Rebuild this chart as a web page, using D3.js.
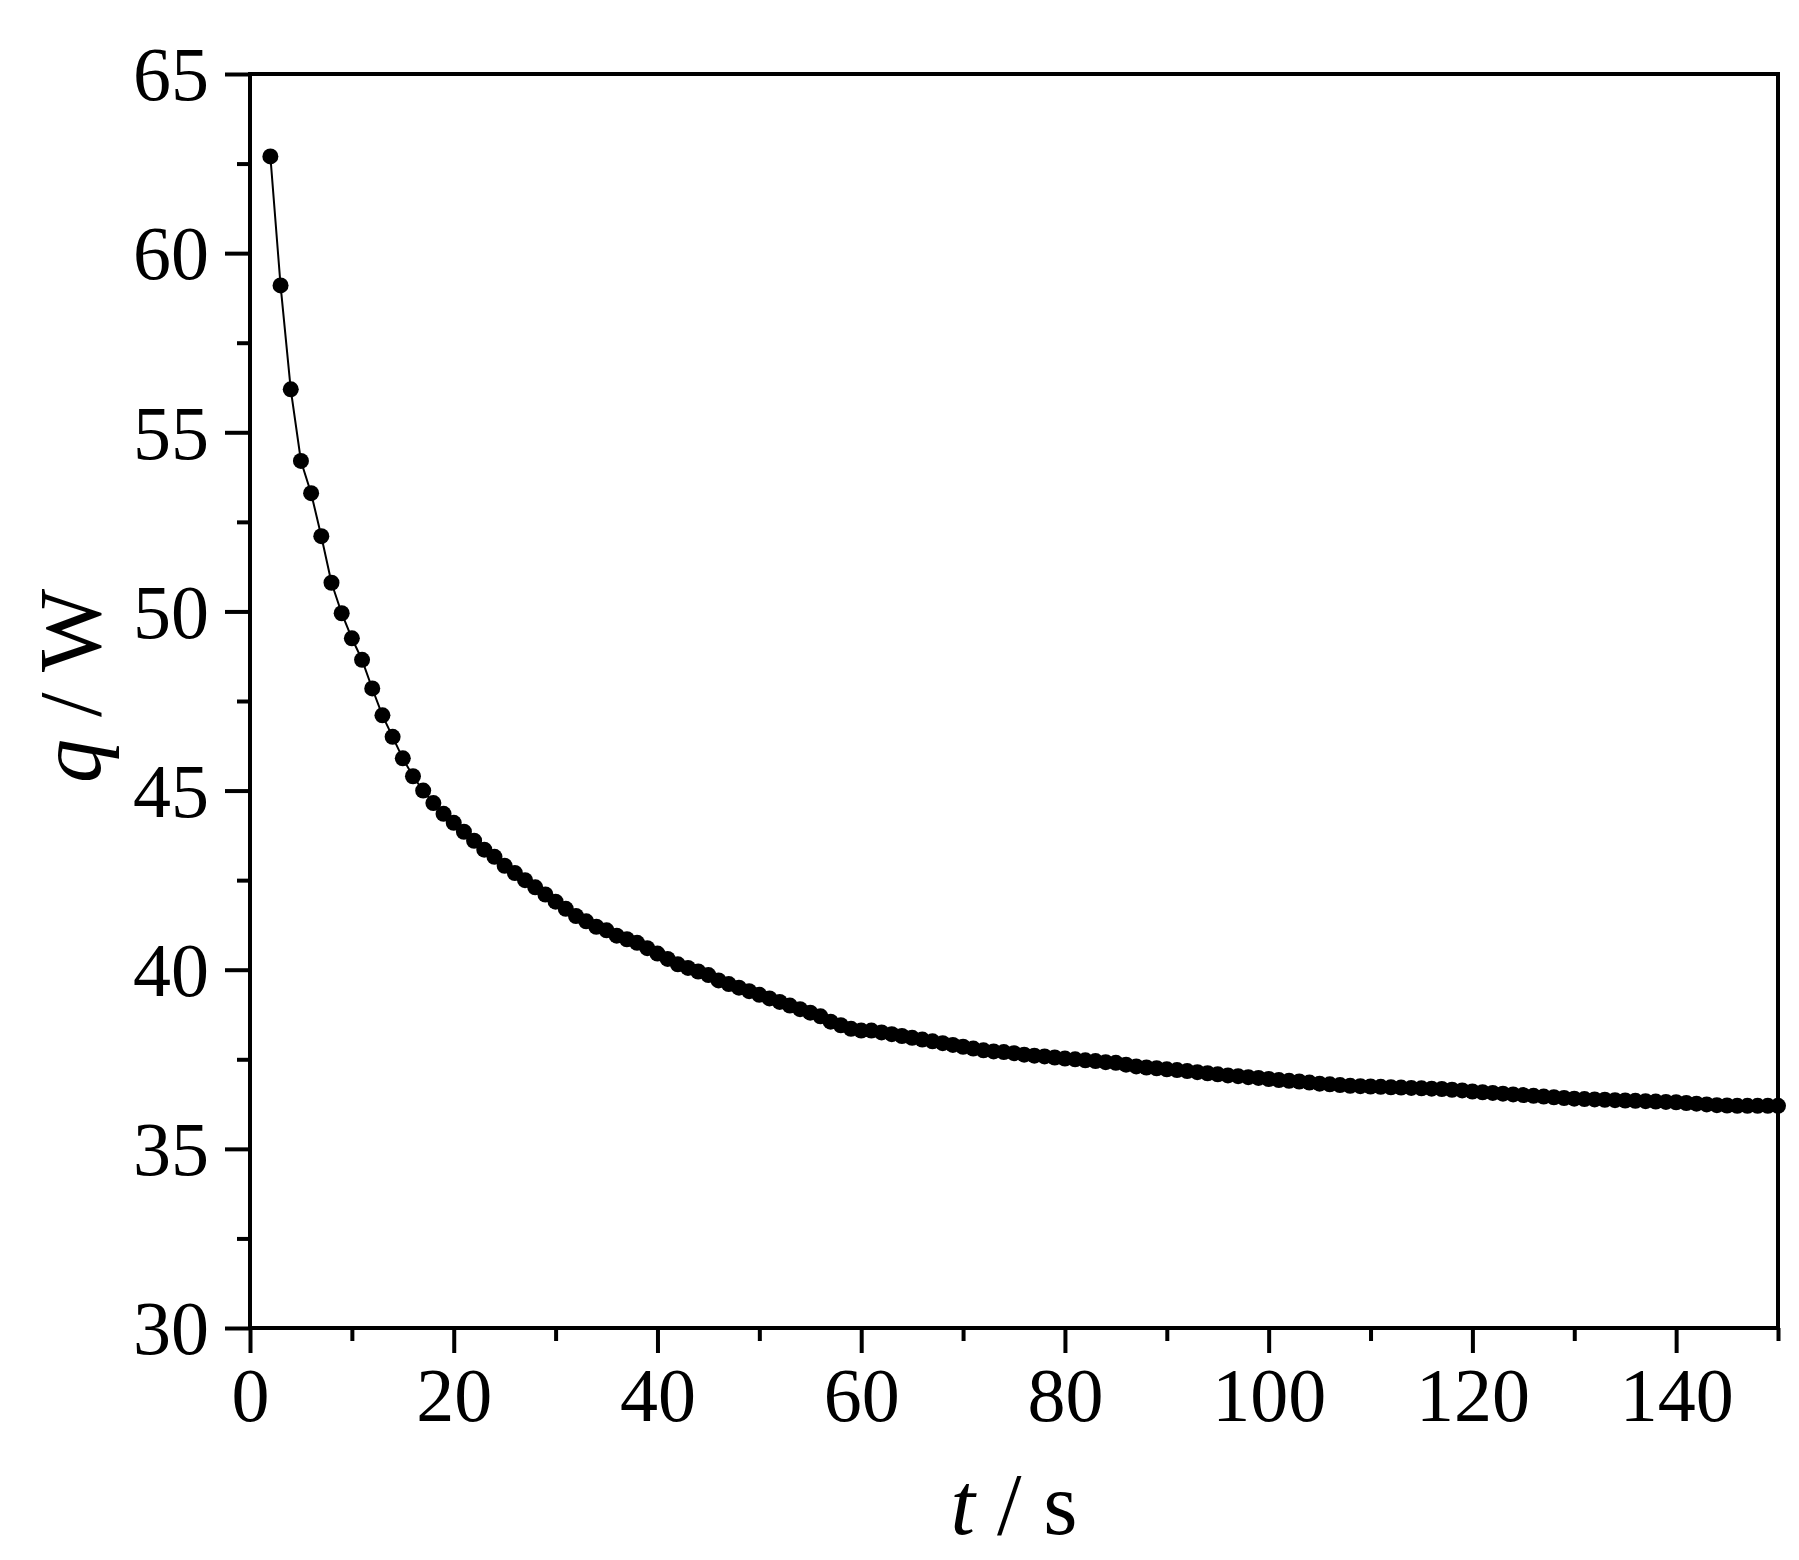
<!DOCTYPE html>
<meta charset="utf-8">
<script src="https://d3js.org/d3.v7.min.js"></script>
<style>
  body { margin: 0; background: #fff; }
  text { font-family: "Liberation Serif", "Times New Roman", serif; fill: #000; }
</style>
<body>
<div id="vis"></div>
<script>
// heat flow q (W) sampled every second from t = 2 s to t = 150 s
var qValues = [
  62.7, 59.1, 56.2, 54.2, 53.3, 52.1, 50.8, 49.95, 49.25, 48.65,
  47.85, 47.1, 46.5, 45.9, 45.4, 45.0, 44.65, 44.35, 44.1, 43.85,
  43.6, 43.35, 43.15, 42.9, 42.7, 42.5, 42.3, 42.1, 41.9, 41.7,
  41.5, 41.35, 41.2, 41.1, 40.95, 40.85, 40.75, 40.6, 40.45, 40.3,
  40.15, 40.05, 39.95, 39.85, 39.7, 39.6, 39.5, 39.4, 39.3, 39.2,
  39.1, 39.0, 38.9, 38.8, 38.7, 38.55, 38.45, 38.35, 38.3, 38.3,
  38.25, 38.2, 38.15, 38.1, 38.05, 38.0, 37.95, 37.9, 37.85, 37.8,
  37.75, 37.72, 37.7, 37.67, 37.63, 37.6, 37.58, 37.55, 37.52, 37.5,
  37.47, 37.45, 37.42, 37.4, 37.35, 37.3, 37.27, 37.25, 37.22, 37.2,
  37.17, 37.14, 37.11, 37.08, 37.05, 37.03, 37.0, 36.98, 36.95, 36.92,
  36.9, 36.88, 36.85, 36.82, 36.8, 36.78, 36.76, 36.75, 36.74, 36.73,
  36.72, 36.71, 36.7, 36.69, 36.68, 36.67, 36.65, 36.63, 36.6, 36.58,
  36.56, 36.54, 36.52, 36.5, 36.48, 36.46, 36.44, 36.42, 36.4, 36.39,
  36.38, 36.37, 36.36, 36.35, 36.34, 36.33, 36.32, 36.31, 36.3, 36.28,
  36.26, 36.24, 36.22, 36.21, 36.2, 36.2, 36.2, 36.2, 36.2
];
var tValues = d3.range(2, 2 + qValues.length);
var xTicks = [0, 20, 40, 60, 80, 100, 120, 140];
var xMinor = [10, 30, 50, 70, 90, 110, 130, 150];
var yTicks = [30, 35, 40, 45, 50, 55, 60, 65];
var yMinor = [32.5, 37.5, 42.5, 47.5, 52.5, 57.5, 62.5];

var data = tValues.map(function(t, i) { return {t: t, q: qValues[i]}; });

var margin = {top: 74, right: 21, bottom: 232, left: 250},
    width = 1799 - margin.left - margin.right,
    height = 1560 - margin.top - margin.bottom;

var svg = d3.select("#vis").append("svg")
    .attr("width", 1799).attr("height", 1560)
  .append("g")
    .attr("transform", "translate(" + margin.left + "," + margin.top + ")");

var x = d3.scaleLinear().domain([0, 150]).range([0, width]);
var y = d3.scaleLinear().domain([30, 65]).range([height, 0]);

// frame
svg.append("rect")
  .attr("width", width).attr("height", height)
  .attr("fill", "none").attr("stroke", "#000").attr("stroke-width", 4);

function styleAxis(g) {
  g.select(".domain").remove();
  g.selectAll("line").attr("stroke", "#000").attr("stroke-width", 4);
  g.selectAll("text").style("font-size", "76px")
    .style("font-family", "'Liberation Serif', serif");
}

svg.append("g").attr("transform", "translate(0," + height + ")")
  .call(d3.axisBottom(x).tickValues(xMinor).tickSize(13).tickFormat(""))
  .call(styleAxis);
svg.append("g").attr("transform", "translate(0," + height + ")")
  .call(d3.axisBottom(x).tickValues(xTicks).tickSize(25).tickPadding(14).tickFormat(d3.format("d")))
  .call(styleAxis);
svg.append("g")
  .call(d3.axisLeft(y).tickValues(yMinor).tickSize(13).tickFormat(""))
  .call(styleAxis);
svg.append("g")
  .call(d3.axisLeft(y).tickValues(yTicks).tickSize(25).tickPadding(16).tickFormat(d3.format("d")))
  .call(styleAxis)
  .selectAll("text").attr("dy", "0.34em");

// line + markers
svg.append("path").datum(data)
  .attr("fill", "none").attr("stroke", "#000").attr("stroke-width", 2)
  .attr("d", d3.line().x(function(d) { return x(d.t); }).y(function(d) { return y(d.q); }));

svg.append("g").selectAll("circle").data(data).enter().append("circle")
  .attr("cx", function(d) { return x(d.t); })
  .attr("cy", function(d) { return y(d.q); })
  .attr("r", 8)
  .attr("fill", "#000");

// axis titles
var xt = svg.append("text")
  .attr("x", width / 2).attr("y", height + 206)
  .attr("text-anchor", "middle").style("font-size", "88px");
xt.append("tspan").style("font-style", "italic").text("t");
xt.append("tspan").text(" / s");

var yt = svg.append("text")
  .attr("transform", "translate(-150," + (y(47.5) - 15) + ") rotate(-90)")
  .attr("text-anchor", "middle").style("font-size", "88px");
yt.append("tspan").style("font-style", "italic").text("q");
yt.append("tspan").text(" / W");
</script>
</body>
